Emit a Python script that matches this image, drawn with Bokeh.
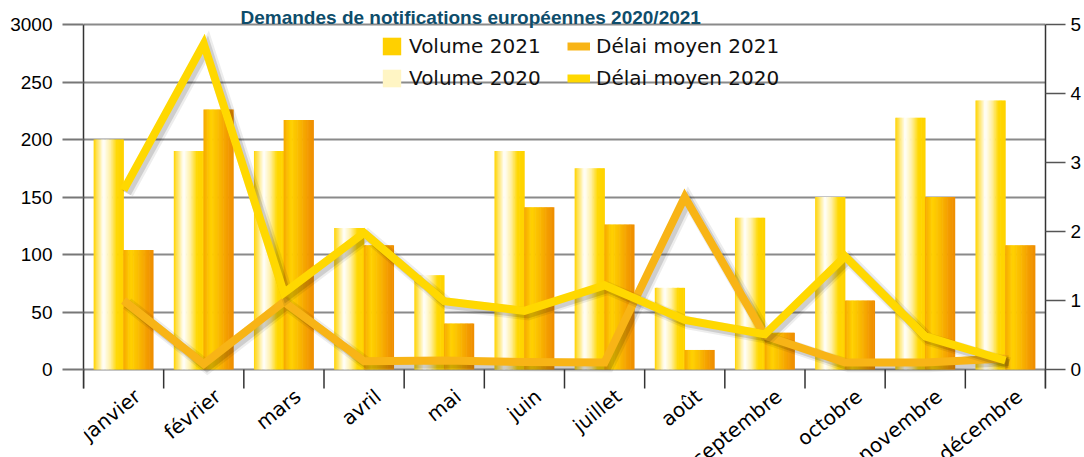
from bokeh.plotting import figure
from bokeh.models import (Range1d, LinearAxis, FixedTicker, Legend, LegendItem, Grid,
                          ColumnDataSource, Label)
from bokeh.transform import dodge
from bokeh.embed import file_html
from bokeh.resources import INLINE

# ---------------- data ----------------
months = ["janvier", "février", "mars", "avril", "mai", "juin", "juillet",
          "août", "septembre", "octobre", "novembre", "décembre"]
volume_2020 = [200, 190, 190, 123, 82, 190, 175, 71, 132, 150, 219, 234]
volume_2021 = [104, 226, 217, 108, 40, 141, 126, 17, 32, 60, 150, 108]
delai_2020 = [2.6, 4.72, 1.11, 1.98, 0.99, 0.85, 1.22, 0.72, 0.51, 1.64, 0.48, 0.13]
delai_2021 = [1.0, 0.08, 0.98, 0.12, 0.13, 0.11, 0.1, 2.5, 0.49, 0.1, 0.1, 0.16]
left_ticks = [0, 50, 100, 150, 200, 250, 300]
left_labels = ["0", "50", "100", "150", "200", "250", "3000"]
right_ticks = [0, 1, 2, 3, 4, 5]
title_text = "Demandes de notifications européennes 2020/2021"
legend_labels = ["Volume 2021", "Volume 2020", "Délai moyen 2021", "Délai moyen 2020"]

# ---------------- layout / style ----------------
W, H = 1084, 457
TOP, BOTTOM = 24, 88            # space above the 300 line and below the 0 line (px)
PLOT_H = H - TOP - BOTTOM       # height of the value area (px)
TICK = 19                       # length of month boundary ticks (px)
TICKF = "'Liberation Sans', Arial, sans-serif"
SANS = "'DejaVu Sans', sans-serif"
C_2020_LINE = "#FFD800"
C_2021_LINE = "#F8B416"
stops_2020 = [(0.0, "#FFD300"), (0.12, "#FFE35A"), (0.33, "#FFFFFF"),
              (0.55, "#FFF0A8"), (0.78, "#FFD800"), (1.0, "#FFD200")]
stops_2021 = [(0.0, "#F6A700"), (0.25, "#FFD200"), (0.5, "#FABC00"),
              (0.8, "#F39C00"), (1.0, "#EF8E00")]


def interp(stops, t):
    for (t0, c0), (t1, c1) in zip(stops[:-1], stops[1:]):
        if t0 <= t <= t1:
            f = (t - t0) / (t1 - t0) if t1 > t0 else 0
            a = [int(c0[i:i + 2], 16) for i in (1, 3, 5)]
            b = [int(c1[i:i + 2], 16) for i in (1, 3, 5)]
            return "#%02x%02x%02x" % tuple(round(x + (y - x) * f) for x, y in zip(a, b))
    return stops[-1][1]


n = len(months)
xc = [i + 0.5 for i in range(n)]
src = ColumnDataSource(dict(month=months, xc=xc, v20=volume_2020, v21=volume_2021,
                            d20=delai_2020, d21=delai_2021))

vmax, dmax = left_ticks[-1], right_ticks[-1]
pv = PLOT_H / vmax               # px per volume unit
pd = PLOT_H / dmax               # px per delay unit

p = figure(width=W, height=H, output_backend="svg",
           toolbar_location=None, x_axis_location=None, y_axis_location=None,
           min_border_left=83, min_border_right=36, min_border_top=0, min_border_bottom=0)
p.x_range = Range1d(0, n)
p.y_range = Range1d(-BOTTOM / pv, vmax + TOP / pv)
p.extra_y_ranges = {"delai": Range1d(-BOTTOM / pd, dmax + TOP / pd),
                    "shadow": Range1d(-BOTTOM / pd + 0.045, dmax + TOP / pd + 0.045)}
p.outline_line_color = None
p.background_fill_color = "white"
p.border_fill_color = "white"
for g in p.grid:
    g.visible = False

grid = Grid(dimension=1, ticker=FixedTicker(ticks=left_ticks),
            grid_line_color="#8a8a8a", grid_line_width=2)
p.add_layout(grid, "center")

# left axis
ax_l = LinearAxis(ticker=FixedTicker(ticks=left_ticks), bounds=(-TICK / pv, vmax),
                  major_label_overrides={t: s for t, s in zip(left_ticks, left_labels)},
                  major_tick_out=21, major_tick_in=0, minor_tick_out=0, minor_tick_in=0,
                  major_tick_line_color="#777777", major_tick_line_width=2,
                  axis_line_color="#333333", axis_line_width=1.5,
                  major_label_standoff=10, major_label_text_font=TICKF,
                  major_label_text_font_size="19px", major_label_text_color="black")
p.add_layout(ax_l, "left")

# right axis
ax_r = LinearAxis(y_range_name="delai", ticker=FixedTicker(ticks=right_ticks),
                  bounds=(-TICK / pd, dmax),
                  major_tick_out=20, major_tick_in=0, minor_tick_out=0, minor_tick_in=0,
                  major_tick_line_color="#555555", major_tick_line_width=1.5,
                  axis_line_color="#333333", axis_line_width=1.5,
                  major_label_standoff=5, major_label_text_font=TICKF,
                  major_label_text_font_size="19px", major_label_text_color="black")
p.add_layout(ax_r, "right")

# month boundary ticks below the zero line
bx = list(range(n + 1))
p.segment(x0=bx, y0=[0] * (n + 1), x1=bx, y1=[-TICK / pv] * (n + 1),
          line_color="#333333", line_width=1.5)

# bars with gradient slices
N = 24
bar_w = 0.37
slice_r = {}
for key, base, stops in [("v20", -bar_w, stops_2020), ("v21", 0.0, stops_2021)]:
    slice_r[key] = []
    for i in range(N):
        t = (i + 0.5) / N
        r = p.vbar(x=dodge("xc", base + (i + 0.5) * bar_w / N), top=key, bottom=0,
                   width=bar_w / N * 1.5, source=src,
                   fill_color=interp(stops, t), line_color=None)
        slice_r[key].append(r)

# lines with soft shadows
lines = {}
for key, col in [("d21", C_2021_LINE), ("d20", C_2020_LINE)]:
    p.line(x=dodge("xc", 0.045), y=key, source=src, y_range_name="shadow",
           line_color="black", line_alpha=0.07, line_width=13, line_join="miter")
    p.line(x=dodge("xc", 0.04), y=key, source=src, y_range_name="shadow",
           line_color="black", line_alpha=0.13, line_width=9, line_join="miter")
    lines[key] = p.line(x="xc", y=key, source=src, y_range_name="delai",
                        line_color=col, line_width=8, line_join="miter")

# month labels (rotated), one per category
for m, x in zip(months, xc):
    p.add_layout(Label(x=x, y=0, text=m, x_offset=14, y_offset=-24, angle=0.68,
                       text_align="right", text_baseline="middle", text_font=SANS,
                       text_font_size="20px", text_color="black"))

# title
p.add_layout(Label(x=4.83, y=vmax + 7 / pv, text=title_text, text_align="center",
                   text_baseline="alphabetic", text_font=TICKF, text_font_style="bold",
                   text_font_size="19px", text_color="#0e4d6b"))

# legends
leg_kw = dict(glyph_width=23, glyph_height=22, label_height=22, spacing=8, padding=0,
              margin=0, label_standoff=6, label_text_font=SANS, label_text_font_size="20px",
              label_text_color="#111111", background_fill_alpha=0, border_line_color=None)
leg_y = H - 90
leg_a = Legend(items=[LegendItem(label=legend_labels[0], renderers=[slice_r["v21"][6]]),
                      LegendItem(label=legend_labels[1], renderers=[slice_r["v20"][11]])],
               location=(297, leg_y), **leg_kw)
leg_b = Legend(items=[LegendItem(label=legend_labels[2], renderers=[lines["d21"]]),
                      LegendItem(label=legend_labels[3], renderers=[lines["d20"]])],
               location=(484, leg_y), **leg_kw)
p.add_layout(leg_a, "center")
p.add_layout(leg_b, "center")

open("out.html", "w").write(file_html(p, INLINE))
